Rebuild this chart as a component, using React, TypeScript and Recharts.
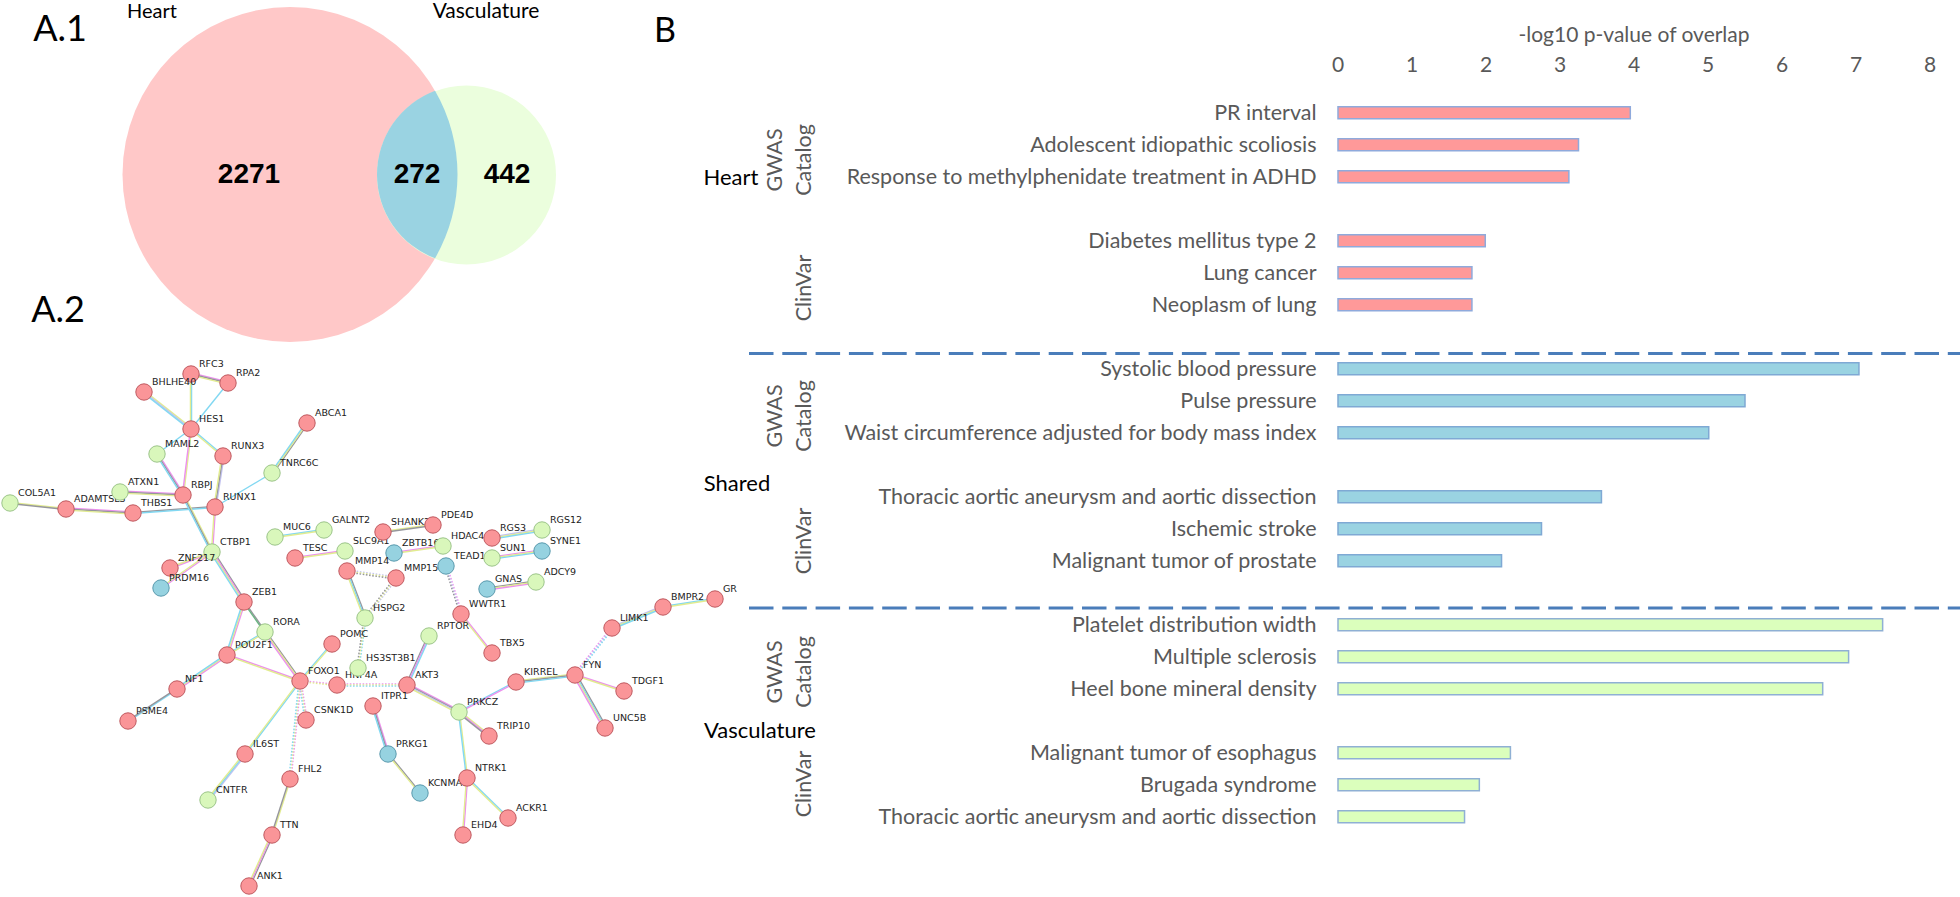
import React from "react";
import { BarChart, Bar, XAxis, YAxis, Label, ScatterChart, Scatter, ReferenceLine } from "recharts";

// ---------- Panel B data ----------
const heartLabels = ["PR interval", "Adolescent idiopathic scoliosis", "Response to methylphenidate treatment in ADHD", "Diabetes mellitus type 2", "Lung cancer", "Neoplasm of lung"];
const heartValues = [3.95, 3.25, 3.12, 1.99, 1.81, 1.81];
const sharedLabels = ["Systolic blood pressure", "Pulse pressure", "Waist circumference adjusted for body mass index", "Thoracic aortic aneurysm and aortic dissection", "Ischemic stroke", "Malignant tumor of prostate"];
const sharedValues = [7.04, 5.5, 5.01, 3.56, 2.75, 2.21];
const vascLabels = ["Platelet distribution width", "Multiple sclerosis", "Heel bone mineral density", "Malignant tumor of esophagus", "Brugada syndrome", "Thoracic aortic aneurysm and aortic dissection"];
const vascValues = [7.36, 6.9, 6.55, 2.33, 1.91, 1.71];
const xTicks = [0, 1, 2, 3, 4, 5, 6, 7, 8];

type Row = { id: string; label: string; heart?: number; shared?: number; vasc?: number };
const rows: Row[] = [];
function pushGroup(labels: string[], values: number[], key: "heart" | "shared" | "vasc", last: boolean) {
  labels.forEach((label, i) => {
    if (i === 3) rows.push({ id: key + "-gap", label: "" });
    rows.push({ id: key + i, label, [key]: values[i] });
  });
  if (!last) rows.push({ id: key + "-end", label: "" });
}
pushGroup(heartLabels, heartValues, "heart", false);
pushGroup(sharedLabels, sharedValues, "shared", false);
pushGroup(vascLabels, vascValues, "vasc", true);
const rowLabel: Record<string, string> = Object.fromEntries(rows.map((r) => [r.id, r.label]));

// ---------- Panel A.1 data ----------
const vennHeart = [{ name: "Heart", count: 2271, x: 290, y: 174.5, r: 167.5 }];
const vennVasc = [{ name: "Vasculature", count: 442, x: 466.5, y: 175, r: 89.5 }];
const vennShared = [{ name: "Shared", count: 272, x: 417, y: 175 }];

// ---------- Panel A.2 data: layout coordinates ----------
type G = "r" | "g" | "b";
const nodes: [string, number, number, G][] = [
  ["RFC3", 191, 374, "r"], ["RPA2", 228, 383, "r"], ["BHLHE40", 144, 392, "r"], ["HES1", 191, 429, "r"],
  ["ABCA1", 307, 423, "r"], ["MAML2", 157, 454, "g"], ["RUNX3", 223, 456, "r"], ["TNRC6C", 272, 473, "g"],
  ["COL5A1", 10, 503, "g"], ["ADAMTSL3", 66, 509, "r"], ["ATXN1", 120, 492, "g"], ["RBPJ", 183, 495, "r"],
  ["RUNX1", 215, 507, "r"], ["THBS1", 133, 513, "r"], ["CTBP1", 212, 552, "g"], ["ZNF217", 170, 568, "r"],
  ["PRDM16", 161, 588, "b"], ["ZEB1", 244, 602, "r"], ["RORA", 265, 632, "g"],
  ["MUC6", 275, 537, "g"], ["GALNT2", 324, 530, "g"], ["TESC", 295, 558, "r"], ["SLC9A1", 345, 551, "g"],
  ["SHANK2", 383, 532, "r"], ["PDE4D", 433, 525, "r"], ["ZBTB16", 394, 553, "b"], ["HDAC4", 443, 546, "g"],
  ["RGS3", 492, 538, "r"], ["RGS12", 542, 530, "g"], ["TEAD1", 446, 566, "b"], ["SUN1", 492, 558, "g"],
  ["SYNE1", 542, 551, "b"], ["MMP14", 347, 571, "r"], ["MMP15", 396, 578, "r"], ["HSPG2", 365, 618, "g"],
  ["GNAS", 487, 589, "b"], ["ADCY9", 536, 582, "g"], ["WWTR1", 461, 614, "r"], ["POMC", 332, 644, "r"],
  ["RPTOR", 429, 636, "g"], ["TBX5", 492, 653, "r"], ["HNF4A", 337, 685, "r"], ["HS3ST3B1", 358, 668, "g"],
  ["FOXO1", 300, 681, "r"], ["AKT3", 407, 685, "r"], ["KIRREL", 516, 682, "r"], ["FYN", 575, 675, "r"],
  ["LIMK1", 612, 628, "r"], ["BMPR2", 663, 607, "r"], ["GR", 715, 599, "r"], ["TDGF1", 624, 691, "r"],
  ["UNC5B", 605, 728, "r"], ["POU2F1", 227, 655, "r"], ["NF1", 177, 689, "r"], ["PSME4", 128, 721, "r"],
  ["CSNK1D", 306, 720, "r"], ["IL6ST", 245, 754, "r"], ["CNTFR", 208, 800, "g"], ["FHL2", 290, 779, "r"],
  ["TTN", 272, 835, "r"], ["ANK1", 249, 886, "r"], ["ITPR1", 373, 706, "r"], ["PRKG1", 388, 754, "b"],
  ["KCNMA1", 420, 793, "b"], ["PRKCZ", 459, 712, "g"], ["TRIP10", 489, 736, "r"], ["NTRK1", 467, 778, "r"],
  ["EHD4", 463, 835, "r"], ["ACKR1", 508, 818, "r"],
];
// strands: m magenta, y yellow, c cyan, k grey, l lavender, g green, d = dotted edge
const edges: [string, string, string][] = [
  ["RFC3", "RPA2", "mky"], ["RFC3", "HES1", "cy"], ["RPA2", "HES1", "c"], ["BHLHE40", "HES1", "ylc"],
  ["HES1", "MAML2", "c"], ["HES1", "RBPJ", "ym"], ["HES1", "RUNX3", "cy"], ["RUNX3", "RUNX1", "lky"],
  ["ABCA1", "TNRC6C", "kyc"], ["TNRC6C", "RUNX1", "c"], ["MAML2", "RBPJ", "mkc"], ["ATXN1", "RBPJ", "mky"],
  ["COL5A1", "ADAMTSL3", "yk"], ["ADAMTSL3", "THBS1", "mky"], ["THBS1", "RUNX1", "kc"], ["RBPJ", "CTBP1", "ykc"],
  ["RUNX1", "CTBP1", "my"], ["CTBP1", "ZNF217", "my"], ["CTBP1", "PRDM16", "my"], ["CTBP1", "ZEB1", "kmyc"],
  ["ZEB1", "POU2F1", "myc"], ["ZEB1", "RORA", "kg"], ["RORA", "FOXO1", "kym"], ["POU2F1", "RORA", "cy"],
  ["POU2F1", "FOXO1", "my"], ["POU2F1", "NF1", "myc"], ["NF1", "PSME4", "ck"], ["FOXO1", "POMC", "cy"],
  ["FOXO1", "HNF4A", "dmy"], ["HNF4A", "AKT3", "dmyc"], ["FOXO1", "CSNK1D", "dmyc"], ["FOXO1", "FHL2", "dmyc"],
  ["FOXO1", "IL6ST", "cy"], ["IL6ST", "CNTFR", "lcy"], ["FHL2", "TTN", "yk"], ["TTN", "ANK1", "kmy"],
  ["AKT3", "RPTOR", "kmc"], ["AKT3", "PRKCZ", "mkly"], ["PRKCZ", "TRIP10", "ymk"], ["PRKCZ", "KIRREL", "cm"],
  ["PRKCZ", "NTRK1", "yc"], ["KIRREL", "FYN", "ykc"], ["FYN", "LIMK1", "dmlc"], ["FYN", "TDGF1", "my"],
  ["FYN", "UNC5B", "kcym"], ["LIMK1", "BMPR2", "lyc"], ["BMPR2", "GR", "cy"], ["NTRK1", "EHD4", "my"],
  ["NTRK1", "ACKR1", "cy"], ["ITPR1", "PRKG1", "mkc"], ["PRKG1", "KCNMA1", "ky"], ["MUC6", "GALNT2", "cy"],
  ["TESC", "SLC9A1", "my"], ["SHANK2", "PDE4D", "yk"], ["ZBTB16", "HDAC4", "my"], ["RGS3", "RGS12", "lyc"],
  ["SUN1", "SYNE1", "myc"], ["TEAD1", "WWTR1", "dmlk"], ["GNAS", "ADCY9", "kym"], ["MMP14", "MMP15", "dlyk"],
  ["MMP14", "HSPG2", "kcy"], ["MMP15", "HSPG2", "dlyk"], ["HSPG2", "HS3ST3B1", "dcyk"], ["WWTR1", "TBX5", "my"],
];
const separators = [353.5, 608];

const strandColor: Record<string, string> = { m: "#EC90EE", y: "#E2EC90", c: "#82D8F2", k: "#96969C", l: "#C2C2F0", g: "#68B480" };
const nodeFill: Record<G, string> = { r: "#FA9598", g: "#D9F7BB", b: "#96D2E0" };
const nodeStroke: Record<G, string> = { r: "#C05A60", g: "#9CC58A", b: "#5A9AAE" };
const nodeData = nodes.map(([name, x, y, group]) => ({ name, x, y, group }));
const nodeByName = Object.fromEntries(nodeData.map((n) => [n.name, n]));

const edgeShape = (strands: string) => (p: any) => {
  const dotted = strands[0] === "d";
  const keys = dotted ? strands.slice(1).split("") : strands.split("");
  const dx = p.x2 - p.x1, dy = p.y2 - p.y1;
  const len = Math.hypot(dx, dy) || 1;
  const nx = -dy / len, ny = dx / len;
  return (
    <g>
      {keys.map((k, i) => {
        const off = (i - (keys.length - 1) / 2) * 1.1;
        return (
          <line key={i} x1={p.x1 + nx * off} y1={p.y1 + ny * off} x2={p.x2 + nx * off} y2={p.y2 + ny * off}
            stroke={strandColor[k]} strokeWidth={1.4} strokeDasharray={dotted ? "1.6 1.6" : undefined} />
        );
      })}
    </g>
  );
};

const NodeShape = (p: any) => {
  const g: G = p.payload.group;
  return (
    <g>
      <circle cx={p.cx} cy={p.cy} r={8.2} fill={nodeFill[g]} stroke={nodeStroke[g]} strokeWidth={1} />
      <text x={p.cx + 8} y={p.cy - 7.5} fontFamily="'DejaVu Sans'" fontSize={9.5} fill="#222">{p.payload.name}</text>
    </g>
  );
};

const heartShape = (p: any) => <circle cx={p.cx} cy={p.cy} r={p.payload.r} fill="#FFC8C8" />;
const vascShape = (p: any) => <circle cx={p.cx} cy={p.cy} r={p.payload.r} fill="#EBFEDD" />;
const lensShape = () => {
  const a = vennHeart[0], b = vennVasc[0];
  const d = b.x - a.x;
  const h0 = (d * d + a.r * a.r - b.r * b.r) / (2 * d);
  const h = Math.sqrt(a.r * a.r - h0 * h0);
  const cx = a.x + h0;
  return <path d={`M${cx} ${a.y - h}A${a.r} ${a.r} 0 0 1 ${cx} ${a.y + h}A${b.r} ${b.r} 0 0 1 ${cx} ${a.y - h}Z`} fill="#9AD3E2" />;
};

const font = "Lato, 'Open Sans', sans-serif";
const grey = "#595959";

function T(props: { x: number; y: number; s: number; c?: string; a?: "start" | "middle" | "end"; r?: boolean; w?: number; f?: string; children: React.ReactNode }) {
  const { x, y, s, c = "#000", a = "middle", r, w, f = font, children } = props;
  return (
    <text x={x} y={y} fontSize={s} fill={c} textAnchor={a} fontFamily={f} fontWeight={w} dominantBaseline="middle"
      transform={r ? `rotate(-90 ${x} ${y})` : undefined}>{children}</text>
  );
}

export default function App() {
  return (
    <div style={{ position: "absolute", left: 0, top: 0, width: 1960, height: 897, background: "#fff", overflow: "hidden" }}>
      <div style={{ position: "absolute", left: 640, top: 0 }}>
        <BarChart width={1320} height={860} layout="vertical" data={rows} barSize={12} margin={{ top: 0.7, right: 30, bottom: 27.3, left: 0 }}>
          <XAxis type="number" orientation="top" domain={[0, 8]} ticks={xTicks} height={96} axisLine={false} tickLine={false} tickMargin={19}
            tick={{ fontSize: 21, fill: grey, fontFamily: font }} interval={0}>
            <Label value="-log10 p-value of overlap" position="insideTop" offset={26} fontSize={21} fill={grey} fontFamily={font} />
          </XAxis>
          <YAxis type="category" dataKey="id" width={698} axisLine={false} tickLine={false} tickMargin={15.5} interval={0}
            tickFormatter={(v: string) => rowLabel[v]} tick={{ fontSize: 21.5, fill: grey, fontFamily: font }} />
          <Bar dataKey="heart" stackId="a" fill="#FF9999" stroke="#8FAADC" strokeWidth={1.5} isAnimationActive={false} />
          <Bar dataKey="shared" stackId="a" fill="#9AD3E2" stroke="#7FA9D4" strokeWidth={1.5} isAnimationActive={false} />
          <Bar dataKey="vasc" stackId="a" fill="#DBFFBC" stroke="#8FB0D4" strokeWidth={1.5} isAnimationActive={false} />
        </BarChart>
      </div>
      <div style={{ position: "absolute", left: 0, top: 0 }}>
        <ScatterChart width={1960} height={897} margin={{ top: 0, right: 0, bottom: 0, left: 0 }}>
          <XAxis type="number" dataKey="x" domain={[0, 1960]} hide />
          <YAxis type="number" dataKey="y" domain={[0, 897]} reversed hide />
          <Scatter data={vennHeart} shape={heartShape} isAnimationActive={false} />
          <Scatter data={vennVasc} shape={vascShape} isAnimationActive={false} />
          <Scatter data={vennShared} shape={lensShape} isAnimationActive={false} />
          {separators.map((y) => (
            <ReferenceLine key={y} segment={[{ x: 749, y }, { x: 1960, y }]} stroke="#4A7DBA" strokeWidth={3} strokeDasharray="24.5 8.8" ifOverflow="visible" />
          ))}
          {edges.map(([a, b, s]) => (
            <ReferenceLine key={a + b} segment={[{ x: nodeByName[a].x, y: nodeByName[a].y }, { x: nodeByName[b].x, y: nodeByName[b].y }]}
              shape={edgeShape(s)} ifOverflow="visible" />
          ))}
          <Scatter data={nodeData} shape={NodeShape} isAnimationActive={false} />
        </ScatterChart>
      </div>
      <svg width={1960} height={897} style={{ position: "absolute", left: 0, top: 0, pointerEvents: "none" }}>
        <T x={60} y={32} s={36}>A.1</T>
        <T x={58} y={313} s={36}>A.2</T>
        <T x={665} y={33} s={34}>B</T>
        <T x={152} y={13} s={20}>Heart</T>
        <T x={486} y={13} s={21}>Vasculature</T>
        <T x={249} y={176} s={28} w={700} f="'Liberation Sans'">2271</T>
        <T x={417} y={176} s={28} w={700} f="'Liberation Sans'">272</T>
        <T x={507} y={176} s={28} w={700} f="'Liberation Sans'">442</T>

        <T x={731} y={179} s={22}>Heart</T>
        <T x={737} y={485} s={22}>Shared</T>
        <T x={760} y={732} s={22}>Vasculature</T>

        <T x={777} y={160} s={21.5} c={grey} r>GWAS</T>
        <T x={806} y={160} s={21.5} c={grey} r>Catalog</T>
        <T x={806} y={288} s={21.5} c={grey} r>ClinVar</T>
        <T x={777} y={416} s={21.5} c={grey} r>GWAS</T>
        <T x={806} y={416} s={21.5} c={grey} r>Catalog</T>
        <T x={806} y={541} s={21.5} c={grey} r>ClinVar</T>
        <T x={777} y={672} s={21.5} c={grey} r>GWAS</T>
        <T x={806} y={672} s={21.5} c={grey} r>Catalog</T>
        <T x={806} y={784} s={21.5} c={grey} r>ClinVar</T>
      </svg>
    </div>
  );
}
